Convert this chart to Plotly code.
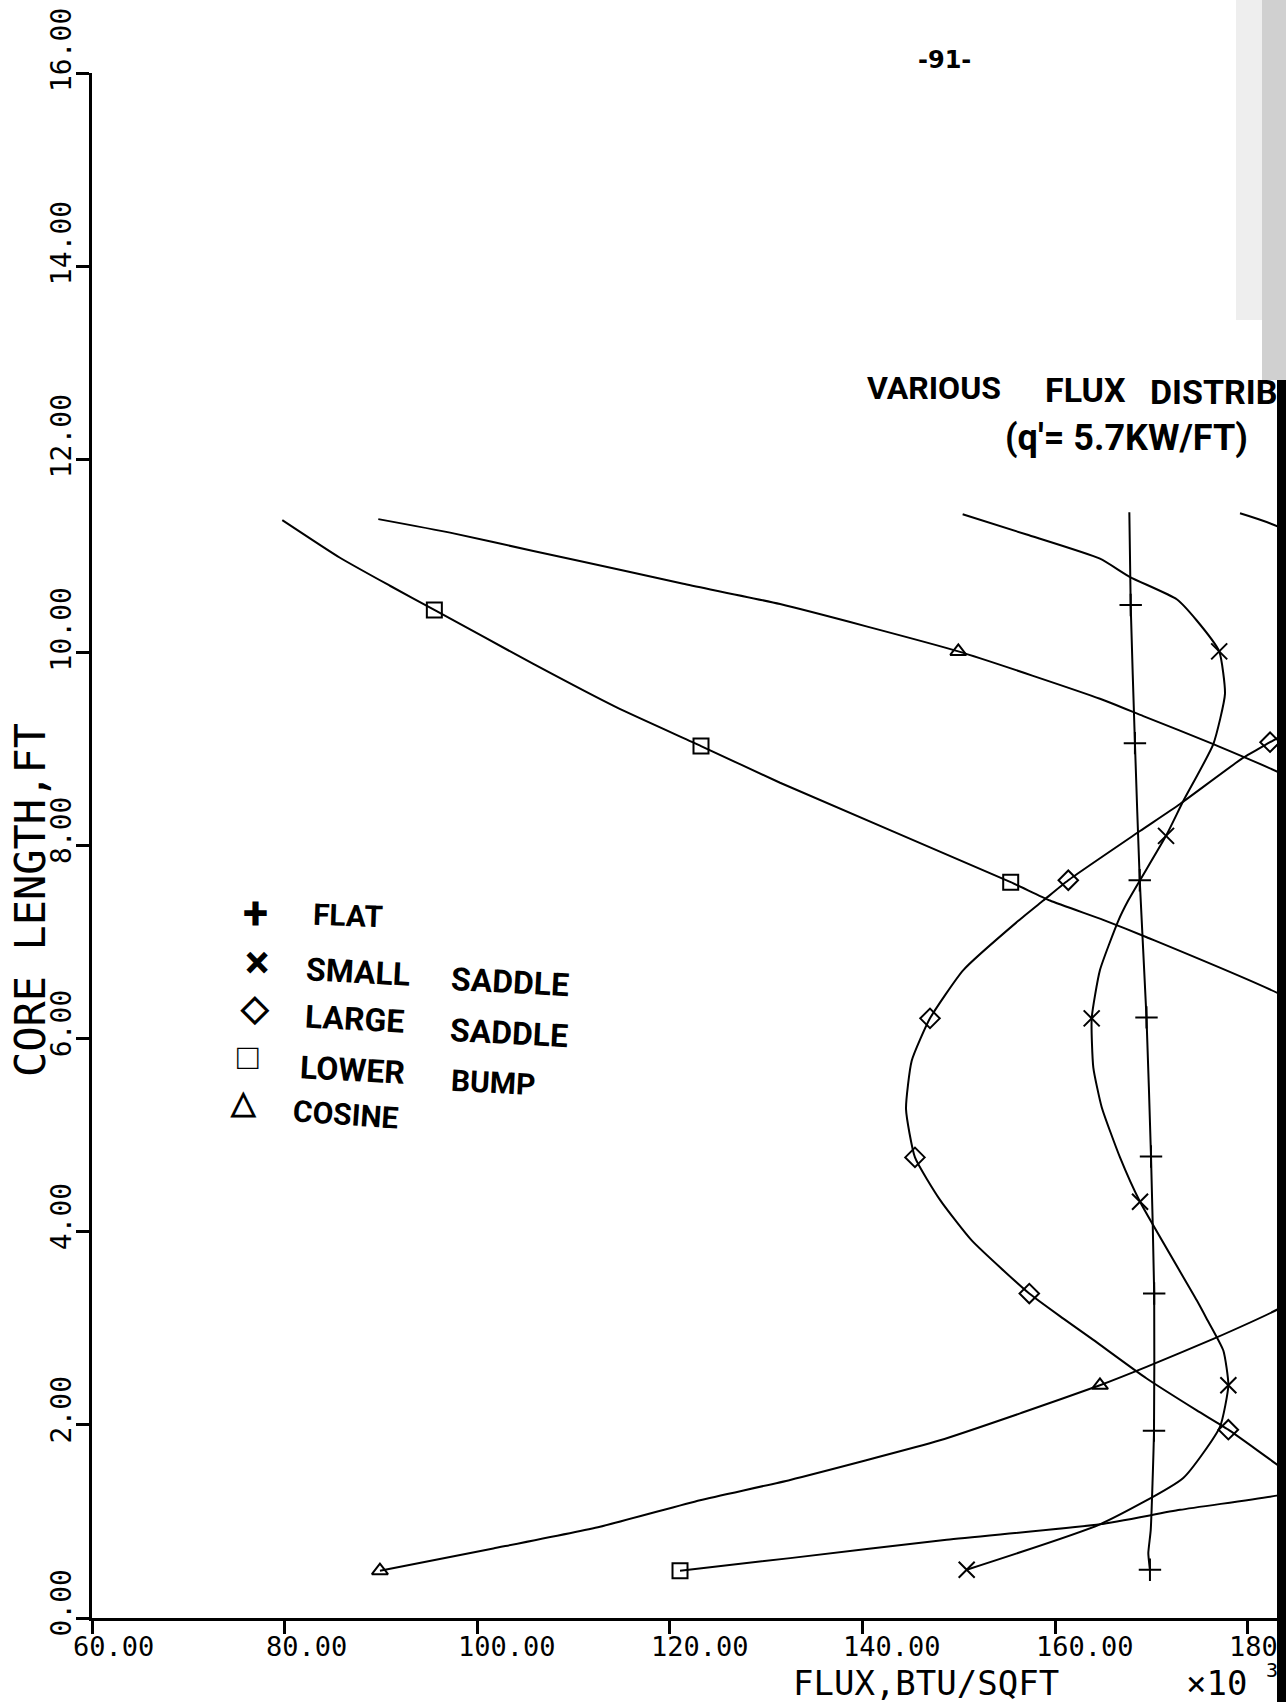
import plotly.graph_objects as go

# Axial heat-flux profiles: flux (10^3 BTU/sqft) against core length (ft)

# FLAT
flat_z = [0.50, 0.67, 0.91, 1.94, 3.36, 4.78, 6.22, 7.64, 9.06, 10.49, 11.45]
flat_q = [169.86, 169.69, 169.94, 170.28, 170.30, 169.97, 169.50, 168.80, 168.30, 167.86, 167.72]
flat_mark_z = [0.50, 1.94, 3.36, 4.78, 6.22, 7.64, 9.06, 10.49]
flat_mark_q = [169.86, 170.28, 170.30, 169.97, 169.50, 168.80, 168.30, 167.86]

# SMALL SADDLE
small_z = [0.50, 0.97, 1.45, 1.98, 2.41, 2.77, 3.10, 3.29, 4.31, 4.77, 5.29, 5.70, 6.21,
           6.71, 7.22, 7.43, 8.10, 8.46, 9.05, 9.57, 10.01, 10.33, 10.55, 10.78, 10.97, 11.22, 11.43]
small_q = [150.83, 164.67, 173.32, 177.13, 178.00, 177.48, 175.75, 174.72, 168.83, 166.75, 164.85,
           163.98, 163.81, 164.67, 166.57, 167.60, 171.53, 173.32, 176.44, 177.65, 177.05, 174.72,
           172.64, 167.79, 164.67, 157.06, 150.41]
small_mark_z = [0.50, 2.41, 4.31, 6.21, 8.10, 10.01]
small_mark_q = [150.83, 178.00, 168.83, 163.81, 171.53, 177.05]

# LARGE SADDLE
large_z = [0.50, 0.95, 1.58, 1.95, 2.15, 2.48, 2.88, 3.10, 3.36, 3.91, 4.33, 4.77, 5.27, 5.77,
           6.21, 6.71, 7.22, 7.43, 7.64, 8.15, 8.43, 8.91, 9.07, 9.17, 10.30, 11.26, 11.44]
large_q = [190.0, 192.5, 183.2, 178.0, 174.72, 169.52, 163.98, 160.87, 157.33, 151.35, 148.06,
           145.46, 144.53, 145.12, 147.02, 150.48, 156.19, 158.79, 161.38, 168.83, 172.98, 179.56,
           182.33, 184.0, 192.0, 183.99, 179.21]
large_mark_z = [1.95, 3.36, 4.77, 6.21, 7.64, 9.07]
large_mark_q = [178.0, 157.33, 145.46, 147.02, 161.38, 182.33]

# LOWER BUMP
lower_z = [0.49, 0.62, 0.81, 0.97, 1.12, 1.27, 1.60, 3.0, 4.5, 5.6, 6.45, 7.05, 7.23, 7.43,
           7.62, 8.65, 9.03, 9.43, 9.88, 10.44, 10.69, 10.98, 11.37]
lower_q = [121.06, 132.5, 148.75, 164.67, 172.98, 183.2, 200.0, 222.0, 215.0, 197.0, 183.54,
           169.52, 165.0, 159.48, 155.4, 131.45, 123.24, 114.48, 105.83, 95.55, 90.94, 85.75, 79.76]
lower_mark_z = [0.49, 7.62, 9.03, 10.44]
lower_mark_q = [121.06, 155.4, 123.24, 95.55]

# COSINE
cos_z = [0.49, 0.72, 0.945, 1.22, 1.43, 1.84, 2.13, 2.41, 2.60, 2.89, 3.20, 4.5, 5.94, 7.4,
         8.72, 9.05, 9.34, 9.52, 10.01, 10.50, 10.71, 10.84, 11.05, 11.24, 11.38]
cos_q = [89.9, 101.67, 112.75, 123.14, 132.5, 148.06, 156.7, 164.67, 169.5, 176.44, 183.2,
         205.0, 212.0, 205.0, 183.99, 176.44, 169.17, 164.67, 149.96, 131.45, 121.4, 115.52,
         105.83, 97.18, 89.73]
cos_mark_z = [0.49, 2.41, 10.01]
cos_mark_q = [89.9, 164.67, 149.96]

x_ticks = [60, 80, 100, 120, 140, 160, 180]
y_ticks = [0, 2, 4, 6, 8, 10, 12, 14, 16]

# page geometry (pixels)
W, H = 1286, 1702
L, T, B = 92, 73, 84
PW, PH = W - L, H - T - B
Y0 = H - B

def px(X):
    return (X - L) / PW

def py(Y):
    return (Y0 - Y) / PH

INK = "black"
fig = go.Figure()

series = [
    (flat_z, flat_q, flat_mark_z, flat_mark_q, "cross-thin", 16),
    (small_z, small_q, small_mark_z, small_mark_q, "x-thin", 16),
    (large_z, large_q, large_mark_z, large_mark_q, "diamond-open", 15),
    (lower_z, lower_q, lower_mark_z, lower_mark_q, "square-open", 15),
    (cos_z, cos_q, cos_mark_z, cos_mark_q, "triangle-up-open", 14),
]
for z, q, mz, mq, sym, size in series:
    fig.add_trace(go.Scatter(x=q, y=z, mode="lines",
                             line=dict(color=INK, width=2, shape="spline", smoothing=0.5),
                             hoverinfo="skip"))
    fig.add_trace(go.Scatter(x=mq, y=mz, mode="markers",
                             marker=dict(symbol=sym, size=size, color=INK,
                                         line=dict(color=INK, width=2)),
                             hoverinfo="skip"))

ann = []
mono = "DejaVu Sans Mono"
for v in x_ticks:
    ann.append(dict(x=v, xref="x", y=0, yref="paper", text=f"{v:.2f}", showarrow=False,
                    xanchor="left", xshift=-21, yanchor="middle", yshift=-28,
                    font=dict(family=mono, size=27, color=INK)))
for v in y_ticks:
    ann.append(dict(x=px(61), xref="paper", y=v, yref="y", text=f"{v:.2f}", showarrow=False,
                    textangle=-90, xanchor="center", yanchor="bottom", yshift=-21,
                    font=dict(family=mono, size=28, color=INK)))

ann.append(dict(x=px(926), y=py(1683), xref="paper", yref="paper", text="FLUX,BTU/SQFT",
                showarrow=False, xanchor="center", yanchor="middle",
                font=dict(family=mono, size=34, color=INK)))
ann.append(dict(x=px(1184), y=py(1683), xref="paper", yref="paper", text="×10",
                showarrow=False, xanchor="left", yanchor="middle",
                font=dict(family=mono, size=34, color=INK)))
ann.append(dict(x=px(1264), y=py(1670), xref="paper", yref="paper", text="3",
                showarrow=False, xanchor="left", yanchor="middle",
                font=dict(family=mono, size=20, color=INK)))
ann.append(dict(x=px(30), y=py(900), xref="paper", yref="paper", text="CORE LENGTH,FT",
                showarrow=False, textangle=-90, xanchor="center", yanchor="middle",
                font=dict(family=mono, size=42, color=INK)))

# page number
ann.append(dict(x=px(944), y=py(60), xref="paper", yref="paper", text="-91-",
                showarrow=False, xanchor="center", yanchor="middle",
                font=dict(family="DejaVu Sans", size=24, color=INK, weight="bold")))

hand = "Roboto"
def note(text, X, Y, size=32, angle=0, anchor="left"):
    ann.append(dict(x=px(X), y=py(Y), xref="paper", yref="paper", text=text,
                    showarrow=False, xanchor=anchor, yanchor="middle", textangle=angle,
                    font=dict(family=hand, size=size, color=INK, weight="bold")))

note("VARIOUS", 865, 388, 32)
note("FLUX", 1043, 390, 34)
note("DISTRIBUTIONS", 1148, 392, 34)
note("(q'= 5.7KW/FT)", 1003, 438, 36)

# key
note("+", 255, 913, 46, anchor="center")
note("FLAT", 310, 915, 30, 2)
note("×", 257, 962, 46, anchor="center")
note("SMALL", 303, 972, 32, 3)
note("SADDLE", 448, 982, 32, 3)
note("◇", 255, 1008, 36, anchor="center")
note("LARGE", 302, 1019, 32, 3)
note("SADDLE", 447, 1033, 32, 3)
note("□", 248, 1057, 36, anchor="center")
note("LOWER", 297, 1070, 32, 3)
note("BUMP", 448, 1082, 30, 3)
note("△", 243, 1102, 32, anchor="center")
note("COSINE", 290, 1114, 30, 4)

shapes = [
    # scanner edge on the right-hand side
    dict(type="rect", xref="paper", yref="paper", x0=px(1262), x1=px(1290),
         y0=py(380), y1=py(-5), fillcolor="rgba(40,40,40,0.22)", line=dict(width=0), layer="above"),
    dict(type="rect", xref="paper", yref="paper", x0=px(1236), x1=px(1262),
         y0=py(320), y1=py(-5), fillcolor="rgba(40,40,40,0.08)", line=dict(width=0), layer="above"),
    dict(type="rect", xref="paper", yref="paper", x0=px(1277), x1=px(1290),
         y0=py(H + 5), y1=py(380), fillcolor="black", line=dict(width=0), layer="above"),
]

fig.update_layout(
    width=W, height=H,
    margin=dict(l=L, r=0, t=T, b=B, pad=0),
    paper_bgcolor="white", plot_bgcolor="white",
    showlegend=False,
    annotations=ann,
    shapes=shapes,
    xaxis=dict(range=[60, 60 + PW / 9.63], showgrid=False, zeroline=False,
               showline=True, linecolor=INK, linewidth=2.5,
               ticks="outside", ticklen=13, tickwidth=2.5, tickcolor=INK,
               tickvals=x_ticks, showticklabels=False, fixedrange=True),
    yaxis=dict(range=[0, 16], showgrid=False, zeroline=False,
               showline=True, linecolor=INK, linewidth=2.5,
               ticks="outside", ticklen=13, tickwidth=2.5, tickcolor=INK,
               tickvals=y_ticks, showticklabels=False, fixedrange=True),
)

fig.write_html("out.html")
